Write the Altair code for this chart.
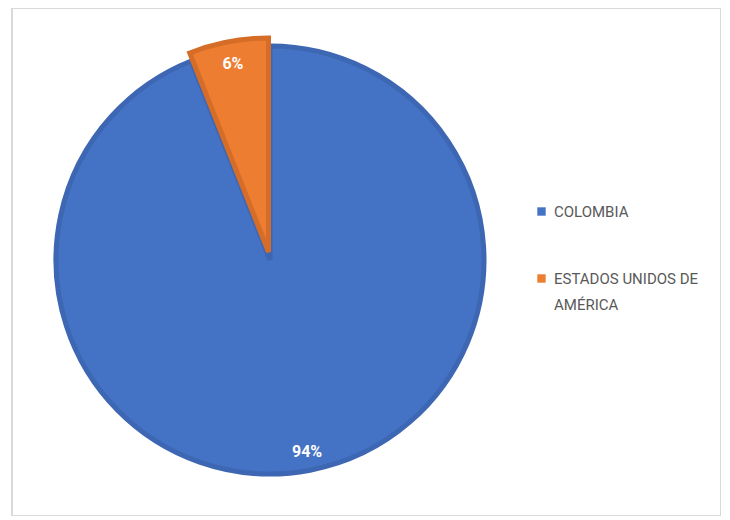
import altair as alt
import pandas as pd

categories = ["COLOMBIA", "ESTADOS UNIDOS DE AMÉRICA"]
values = [94, 6]
fill_colors = ["#4472C4", "#ED7D31"]
stroke_colors = ["#3E67B3", "#D56C27"]

df = pd.DataFrame({"pais": categories, "valor": values})

FONT = "Roboto, Liberation Sans Narrow, sans-serif"
CX, CY = 258, 252
R = 214

base = alt.Chart(df).transform_window(
    fin="sum(valor)", frame=[None, 0]
).transform_calculate(
    ini="datum.fin - datum.valor",
    mid="(datum.fin + datum.ini) / 2",
    etiqueta="datum.valor + '%'",
)

theta_scale = alt.Scale(domain=[0, 100])
color_scale = alt.Scale(domain=categories, range=fill_colors)
stroke_scale = alt.Scale(domain=categories, range=stroke_colors)

color_enc = alt.Color(
    "pais:N",
    scale=color_scale,
    sort=categories,
    legend=alt.Legend(
        title=None,
        orient="none",
        legendX=522,
        legendY=196,
        symbolType="square",
        symbolSize=70,
        symbolStrokeWidth=0,
        labelFont=FONT,
        labelFontSize=15,
        labelColor="#595959",
        labelLimit=300,
        labelBaseline="top",
        rowPadding=51,
        labelOffset=5,
        labelExpr="datum.label == 'ESTADOS UNIDOS DE AMÉRICA' ? ['ESTADOS UNIDOS DE', 'AMÉRICA'] : datum.label",
    ),
)

def slice_layer(cat, dx, dy):
    return base.transform_filter(alt.datum.pais == cat).mark_arc(
        outerRadius=R, strokeWidth=5, strokeJoin="miter"
    ).encode(
        theta=alt.Theta("ini:Q", scale=theta_scale, stack=None),
        theta2="fin:Q",
        color=color_enc,
        stroke=alt.Stroke("pais:N", scale=stroke_scale, legend=None),
        x=alt.value(CX + dx),
        y=alt.value(CY + dy),
    )

blue = slice_layer("COLOMBIA", 0, 0)
orange = slice_layer("ESTADOS UNIDOS DE AMÉRICA", -1.5, -8)

labels = base.mark_text(
    font=FONT, fontSize=16, fontWeight="bold", color="white", radius=198
).encode(
    theta=alt.Theta("mid:Q", scale=theta_scale, stack=None),
    text="etiqueta:N",
    x=alt.value(CX),
    y=alt.value(CY - 2),
)

chart = alt.layer(blue, orange, labels).properties(
    width=709,
    height=508,
    padding={"left": 4, "top": 0, "right": 0, "bottom": 0},
).configure(
    view={"stroke": "#D9D9D9", "strokeWidth": 2},
    style={"guide-label": {"lineHeight": 26, "dy": -7}},
)

chart.save("out.html", embed_options={"renderer": "svg", "actions": False})
